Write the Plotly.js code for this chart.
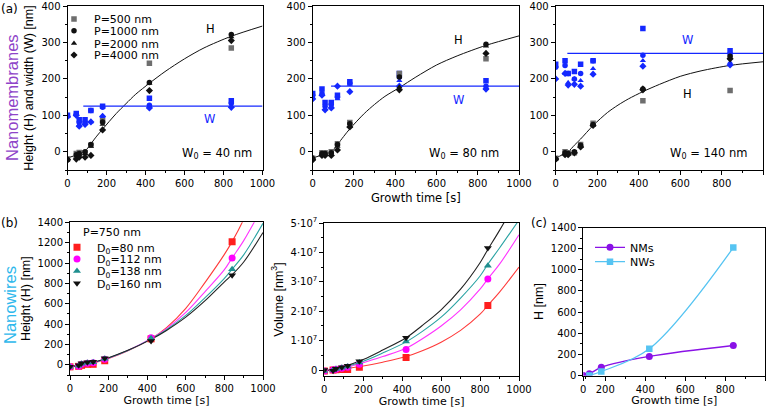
<!DOCTYPE html>
<html><head><meta charset="utf-8">
<script src="https://cdn.plot.ly/plotly-3.0.1.min.js"></script>
<style>html,body{margin:0;padding:0;background:#fff}#chart{width:775px;height:410px}</style>
</head><body><div id="chart"></div>
<script>
// ---------- data ----------
const times = [0, 45, 60, 90, 120, 180, 420, 840];
const P_NAMES = ['P=500 nm', 'P=1000 nm', 'P=2000 nm', 'P=4000 nm'];
const D_NAMES = ['D<sub>0</sub>=80 nm', 'D<sub>0</sub>=112 nm', 'D<sub>0</sub>=138 nm', 'D<sub>0</sub>=160 nm'];

// (a) nanomembranes, W0 = 40 nm
const a1_H_P500  = [-20, -5, -2, -3, 18, 85, 243, 285];
const a1_H_P1000 = [-22, -8, -5, 0, 20, 82, 190, 322];
const a1_H_P2000 = [-18, -12, -8, -5, 15, 75, 188, 315];
const a1_H_P4000 = [-22, -20, -15, -15, -10, 60, 168, 305];
const a1_W_P500  = [100, 105, 88, 88, 113, 125, 147, 140];
const a1_W_P1000 = [98, 103, 80, 80, 113, 122, 128, 133];
const a1_W_P2000 = [97, 103, 75, 78, 82, 98, 124, 125];
const a1_W_P4000 = [96, 100, 70, 75, 82, 97, 120, 122];
const a1_fitT = [0, 50, 90, 120, 150, 180, 250, 300, 350, 420, 500, 600, 700, 840, 1000];
const a1_fitH = [-17, -8, 2, 22, 43, 62, 105, 132, 158, 188, 220, 255, 285, 317, 345];
const a1_Wt = [81, 1000];
const a1_Wv = [125, 125];

// (a) W0 = 80 nm
const a2_H_P500  = [-18, -3, -3, 0, 22, 80, 215, 255];
const a2_H_P1000 = [-20, -5, -5, -3, 20, 77, 205, 295];
const a2_H_P2000 = [-15, -8, -8, -8, 15, 70, 178, 290];
const a2_H_P4000 = [-22, -10, -10, -10, 5, 68, 170, 270];
const a2_W_P500  = [160, 172, 135, 135, 155, 192, 215, 195];
const a2_W_P1000 = [155, 160, 125, 130, 150, 188, 205, 180];
const a2_W_P2000 = [150, 158, 118, 125, 145, 185, 195, 175];
const a2_W_P4000 = [145, 155, 115, 120, 180, 165, 180, 172];
const a2_fitT = [0, 50, 90, 120, 150, 180, 250, 300, 350, 420, 500, 600, 700, 840, 1000];
const a2_fitH = [-17, -8, 0, 20, 42, 63, 105, 130, 152, 176, 205, 238, 263, 292, 318];
const a2_Wt = [89, 1000];
const a2_Wv = [180, 180];

// (a) W0 = 140 nm
const a3_H_P500  = [-18, 0, -3, -3, 20, 78, 140, 168];
const a3_H_P1000 = [-20, -3, -5, 0, 18, 75, 172, 262];
const a3_H_P2000 = [-18, -5, -5, -2, 15, 73, 175, 258];
const a3_H_P4000 = [-20, -8, -8, -3, 13, 72, 170, 255];
const a3_W_P500  = [240, 250, 215, 220, 240, 250, 338, 277];
const a3_W_P1000 = [232, 237, 215, 200, 215, 250, 265, 268];
const a3_W_P2000 = [235, 215, 190, 200, 195, 228, 250, 245];
const a3_W_P4000 = [200, 215, 183, 185, 180, 213, 235, 238];
const a3_fitT = [0, 30, 60, 90, 120, 180, 250, 300, 350, 420, 500, 600, 700, 840, 1000];
const a3_fitH = [-17, -9, 0, 18, 35, 72, 108, 128, 145, 165, 185, 207, 222, 237, 247];
const a3_Wt = [56, 1000];
const a3_Wv = [270, 270];

// (b) nanowires, P = 750 nm
const b_H_D80  = [-20, -15, -5, 5, 5, 40, 255, 1210];
const b_H_D112 = [-20, -15, 5, 15, 20, 55, 265, 1050];
const b_H_D138 = [-20, -10, 10, 20, 25, 60, 260, 940];
const b_H_D160 = [-20, -5, 15, 25, 30, 65, 235, 880];
const b_V_D80  = [-3e5, 0, 1e5, 2e5, 2e5, 1.0e6, 4.3e6, 2.2e7];
const b_V_D112 = [-3e5, 0, 3e5, 6e5, 1.0e6, 2.0e6, 7.0e6, 3.1e7];
const b_V_D138 = [-3e5, 0, 4e5, 8e5, 1.2e6, 2.6e6, 9.7e6, 3.55e7];
const b_V_D160 = [0, -2e5, 5e5, 1.0e6, 1.5e6, 3.0e6, 1.1e7, 4.15e7];
const b_fitT = [0, 100, 200, 300, 420, 500, 600, 700, 800, 840, 900, 1000];
const b_fitH_D80  = [-20, 8, 62, 138, 255, 365, 555, 810, 1085, 1210, 1430, 1900];
const b_fitH_D112 = [-20, 12, 65, 140, 258, 355, 515, 720, 935, 1050, 1220, 1560];
const b_fitH_D138 = [-20, 14, 68, 140, 255, 345, 485, 660, 850, 940, 1080, 1390];
const b_fitH_D160 = [-20, 15, 70, 142, 250, 338, 468, 630, 815, 885, 1010, 1300];
const b_fitV_D80  = [-3e5, 4e5, 1.4e6, 2.7e6, 4.6e6, 6.5e6, 9.5e6, 1.35e7, 1.9e7, 2.2e7, 2.65e7, 3.5e7];
const b_fitV_D112 = [-3e5, 8e5, 2.5e6, 4.6e6, 7.4e6, 1.05e7, 1.5e7, 2.05e7, 2.75e7, 3.1e7, 3.6e7, 4.6e7];
const b_fitV_D138 = [-3e5, 1.0e6, 3.0e6, 5.8e6, 9.6e6, 1.3e7, 1.8e7, 2.45e7, 3.2e7, 3.6e7, 4.15e7, 5.1e7];
const b_fitV_D160 = [-3e5, 1.2e6, 3.6e6, 6.8e6, 1.1e7, 1.5e7, 2.05e7, 2.75e7, 3.65e7, 4.1e7, 4.75e7, 5.9e7];

// (c) comparison
const c_NM_t = [90, 120, 180, 420, 840];
const c_NM_H = [0, 16, 77, 180, 284];
const c_NW_t = [120, 180, 420, 840];
const c_NW_H = [0, 38, 252, 1210];
const c_xTickVals = [90, 200, 400, 600, 800, 1000];
const c_xTickText = ['0', '200', '400', '600', '800', '1000'];
const b2_yTickVals = [0, 1e7, 2e7, 3e7, 4e7, 5e7];
const b2_yTickText = ['0', '1·10<sup>7</sup>', '2·10<sup>7</sup>', '3·10<sup>7</sup>', '4·10<sup>7</sup>', '5·10<sup>7</sup>'];

// ---------- styles ----------
const BLUE = '#1428ff', GRAY = '#6e6e6e', BLK = '#111111';
const P_SYM = ['square', 'circle', 'triangle-up', 'diamond'];
const D_COL = ['#ff1e1e', '#ff00ff', '#1f8f8f', '#111111'];
const D_LINE = ['#ff3a3a', '#ff33ff', '#2aa3a3', '#222222'];
const D_SYM = ['square', 'circle', 'triangle-up', 'triangle-down'];
const NM_COL = '#8a12e6', NW_COL = '#56c4f2';

const traces = [];
function panelA(n, H, W, fitT, fitH, Wt, Wv, withLegend) {
  const xa = n === 1 ? 'x' : 'x' + n, ya = n === 1 ? 'y' : 'y' + n;
  traces.push({x: fitT, y: fitH, xaxis: xa, yaxis: ya, mode: 'lines', line: {color: BLK, width: 1, shape: 'spline', smoothing: 0.8}, showlegend: false, hoverinfo: 'skip'});
  traces.push({x: Wt, y: Wv, xaxis: xa, yaxis: ya, mode: 'lines', line: {color: BLUE, width: 1.2}, showlegend: false, hoverinfo: 'skip'});
  for (let i = 0; i < 4; i++) {
    traces.push({x: times, y: W[i], xaxis: xa, yaxis: ya, mode: 'markers', name: P_NAMES[i],
      marker: {symbol: P_SYM[i], size: 5.5, color: BLUE}, showlegend: false});
  }
  for (let i = 0; i < 4; i++) {
    const t = {x: times, y: H[i], xaxis: xa, yaxis: ya, mode: 'markers', name: P_NAMES[i],
      marker: {symbol: P_SYM[i], size: 5.5, color: i === 0 ? GRAY : BLK}, showlegend: withLegend};
    if (withLegend) t.legend = i === 0 ? 'legend' : 'legend' + (i + 1);
    traces.push(t);
  }
}
panelA(1, [a1_H_P500, a1_H_P1000, a1_H_P2000, a1_H_P4000], [a1_W_P500, a1_W_P1000, a1_W_P2000, a1_W_P4000], a1_fitT, a1_fitH, a1_Wt, a1_Wv, true);
panelA(2, [a2_H_P500, a2_H_P1000, a2_H_P2000, a2_H_P4000], [a2_W_P500, a2_W_P1000, a2_W_P2000, a2_W_P4000], a2_fitT, a2_fitH, a2_Wt, a2_Wv, false);
panelA(3, [a3_H_P500, a3_H_P1000, a3_H_P2000, a3_H_P4000], [a3_W_P500, a3_W_P1000, a3_W_P2000, a3_W_P4000], a3_fitT, a3_fitH, a3_Wt, a3_Wv, false);

const bH = [b_H_D80, b_H_D112, b_H_D138, b_H_D160];
const bV = [b_V_D80, b_V_D112, b_V_D138, b_V_D160];
const bFH = [b_fitH_D80, b_fitH_D112, b_fitH_D138, b_fitH_D160];
const bFV = [b_fitV_D80, b_fitV_D112, b_fitV_D138, b_fitV_D160];
for (let i = 0; i < 4; i++) {
  traces.push({x: b_fitT, y: bFH[i], xaxis: 'x4', yaxis: 'y4', mode: 'lines', line: {color: D_LINE[i], width: 1.1, shape: 'spline'}, showlegend: false, hoverinfo: 'skip'});
  traces.push({x: b_fitT, y: bFV[i], xaxis: 'x5', yaxis: 'y5', mode: 'lines', line: {color: D_LINE[i], width: 1.1, shape: 'spline'}, showlegend: false, hoverinfo: 'skip'});
}
for (let i = 0; i < 4; i++) {
  traces.push({x: times, y: bH[i], xaxis: 'x4', yaxis: 'y4', mode: 'markers', name: D_NAMES[i],
    marker: {symbol: D_SYM[i], size: 7, color: D_COL[i]}, showlegend: true, legend: 'legend' + (5 + i)});
  traces.push({x: times, y: bV[i], xaxis: 'x5', yaxis: 'y5', mode: 'markers', name: D_NAMES[i],
    marker: {symbol: D_SYM[i], size: 7, color: D_COL[i]}, showlegend: false});
}
traces.push({x: c_NM_t, y: c_NM_H, xaxis: 'x6', yaxis: 'y6', mode: 'lines+markers', name: 'NMs',
  line: {color: NM_COL, width: 1.3, shape: 'spline'}, marker: {symbol: 'circle', size: 7, color: NM_COL}, legend: 'legend9'});
traces.push({x: c_NW_t, y: c_NW_H, xaxis: 'x6', yaxis: 'y6', mode: 'lines+markers', name: 'NWs',
  line: {color: NW_COL, width: 1.3, shape: 'spline'}, marker: {symbol: 'square', size: 6.5, color: NW_COL}, legend: 'legend10'});

// ---------- layout ----------
const W = 775, Hh = 410;
const px = v => v / W, py = v => 1 - v / Hh;
const TF = {family: 'DejaVu Sans', size: 10, color: '#000'};
const YT = {family: 'Liberation Sans, Arial', size: 12.5, color: '#000'};
const XT = {family: 'DejaVu Sans', size: 11.5, color: '#000'};
const XTB = {family: 'DejaVu Sans', size: 11, color: '#000'};

function baseAx(domain, range, dtick, mdtick, extra) {
  return Object.assign({domain, range, dtick, tick0: 0, ticks: 'outside', ticklen: 4, tickwidth: 1, tickcolor: '#000',
    showline: true, linecolor: '#000', linewidth: 1, mirror: true, showgrid: false, zeroline: false, fixedrange: true,
    tickfont: TF, minor: {tickmode: 'linear', tick0: 0, dtick: mdtick, ticks: 'outside', ticklen: 2, tickwidth: 1, tickcolor: '#000', showgrid: false}}, extra || {});
}
function overAx(over, anchor, side, range, dtick, mdtick) {
  return {overlaying: over, anchor, side, range, tickmode: 'linear', tick0: 0, dtick, ticks: 'inside', ticklen: 4, tickwidth: 1, tickcolor: '#000',
    showticklabels: false, showline: false, showgrid: false, zeroline: false, fixedrange: true,
    minor: {tickmode: 'linear', tick0: 0, dtick: mdtick, ticks: 'inside', ticklen: 2, tickwidth: 1, tickcolor: '#000', showgrid: false}};
}

const panels = [
  {xd: [67.5, 262.5], yd: [170, 6], xr: [0, 1000], yr: [-50, 400], xt: 200, xm: 100, yt: 100, ym: 50},
  {xd: [312.7, 519], yd: [170, 6], xr: [0, 1000], yr: [-50, 400], xt: 200, xm: 100, yt: 100, ym: 50},
  {xd: [555.7, 763.3], yd: [170, 6], xr: [0, 1000], yr: [-50, 400], xt: 200, xm: 100, yt: 100, ym: 50},
  {xd: [70, 263], yd: [375, 222.3], xr: [0, 1000], yr: [-100, 1400], xt: 200, xm: 100, yt: 200, ym: 100},
  {xd: [324.3, 519], yd: [376, 223], xr: [0, 1000], yr: [-2e6, 5e7], xt: 200, xm: 100, yt: 1e7, ym: 5e6},
  {xd: [583.3, 765.3], yd: [375.5, 227.5], xr: [90, 1000], yr: [0, 1400], xt: 200, xm: 100, yt: 200, ym: 100}
];

const layout = {
  width: W, height: Hh, margin: {l: 0, r: 0, t: 0, b: 0}, paper_bgcolor: '#fff', plot_bgcolor: '#fff',
  font: {family: 'DejaVu Sans', color: '#000'}, showlegend: true, hovermode: false, annotations: []
};
panels.forEach((p, k) => {
  const n = k + 1, s = n === 1 ? '' : String(n);
  const xa = baseAx([px(p.xd[0]), px(p.xd[1])], p.xr, p.xt, p.xm, {anchor: 'y' + s});
  const ya = baseAx([py(p.yd[0]), py(p.yd[1])], p.yr, p.yt, p.ym, {anchor: 'x' + s});
  layout['xaxis' + s] = xa; layout['yaxis' + s] = ya;
  layout['xaxis' + (n + 6)] = overAx('x' + s, 'y' + s, 'top', p.xr, p.xt, p.xm);
  layout['yaxis' + (n + 6)] = overAx('y' + s, 'x' + s, 'right', p.yr, p.yt, p.ym);
});
layout.xaxis6.tickmode = 'array'; layout.xaxis6.tickvals = c_xTickVals; layout.xaxis6.ticktext = c_xTickText;
layout.yaxis5.tickmode = 'array'; layout.yaxis5.tickvals = b2_yTickVals; layout.yaxis5.ticktext = b2_yTickText;

layout.yaxis.title = {text: 'Height (H) and width (W) [nm]', font: YT, standoff: 5};
layout.yaxis4.title = {text: 'Height (H) [nm]', font: YT, standoff: 4};
layout.yaxis5.title = {text: 'Volume [nm<sup>3</sup>]', font: YT, standoff: 4};
layout.yaxis6.title = {text: 'H [nm]', font: YT, standoff: 4};
layout.xaxis2.title = {text: 'Growth time [s]', font: XT, standoff: 5};
layout.xaxis4.title = {text: 'Growth time [s]', font: XTB, standoff: 1};
layout.xaxis5.title = {text: 'Growth time [s]', font: XTB, standoff: 1};
layout.xaxis6.title = {text: 'Growth time [s]', font: XTB, standoff: 1};

// legends (one per entry to control spacing)
const LF = {family: 'DejaVu Sans', size: 11, color: '#000'};
function leg(xp, yp) {
  return {x: px(xp), y: py(yp), xanchor: 'left', yanchor: 'middle', bgcolor: 'rgba(0,0,0,0)', borderwidth: 0, font: LF, itemclick: false, itemdoubleclick: false};
}
[19, 30.7, 43.3, 55].forEach((yy, i) => { layout[i === 0 ? 'legend' : 'legend' + (i + 1)] = leg(54, yy); });
[247.3, 259, 271, 283.3].forEach((yy, i) => { layout['legend' + (5 + i)] = leg(57, yy); });
layout.legend9 = leg(590, 247.3);
layout.legend10 = leg(590, 261.7);

const AF = {family: 'DejaVu Sans', size: 11.5, color: '#000'};
const ABF = {family: 'DejaVu Sans', size: 11.5, color: BLUE};
function ann(text, x, y, xref, yref, font, extra) {
  layout.annotations.push(Object.assign({text, x, y, xref, yref, showarrow: false, font, xanchor: 'center', yanchor: 'middle'}, extra || {}));
}
ann('H', 734, 336, 'x', 'y', AF);
ann('W', 727, 89, 'x', 'y', ABF);
ann('W<sub>0</sub> = 40 nm', 765, -4, 'x', 'y', AF);
ann('H', 709, 308, 'x2', 'y2', AF);
ann('W', 709, 142, 'x2', 'y2', ABF);
ann('W<sub>0</sub> = 80 nm', 733, -4, 'x2', 'y2', AF);
ann('W', 634, 308, 'x3', 'y3', ABF);
ann('H', 634, 158, 'x3', 'y3', AF);
ann('W<sub>0</sub> = 140 nm', 740, -4, 'x3', 'y3', AF);
ann('P=750 nm', px(81), py(233), 'paper', 'paper', LF, {xanchor: 'left'});
ann('(a)', px(9), py(9), 'paper', 'paper', {family: 'DejaVu Sans', size: 12, color: '#000'});
ann('(b)', px(9), py(223), 'paper', 'paper', {family: 'DejaVu Sans', size: 12, color: '#000'});
ann('(c)', px(539), py(223), 'paper', 'paper', {family: 'DejaVu Sans', size: 12, color: '#000'});
ann('Nanomembranes', px(12), py(98), 'paper', 'paper', {family: 'Liberation Sans, Arial', size: 16.5, color: '#8e44c8'}, {textangle: -90});
ann('Nanowires', px(10), py(305), 'paper', 'paper', {family: 'Liberation Sans, Arial', size: 16.5, color: '#2eb8ec'}, {textangle: -90});

Plotly.newPlot('chart', traces, layout, {staticPlot: true, displayModeBar: false});
</script></body></html>
